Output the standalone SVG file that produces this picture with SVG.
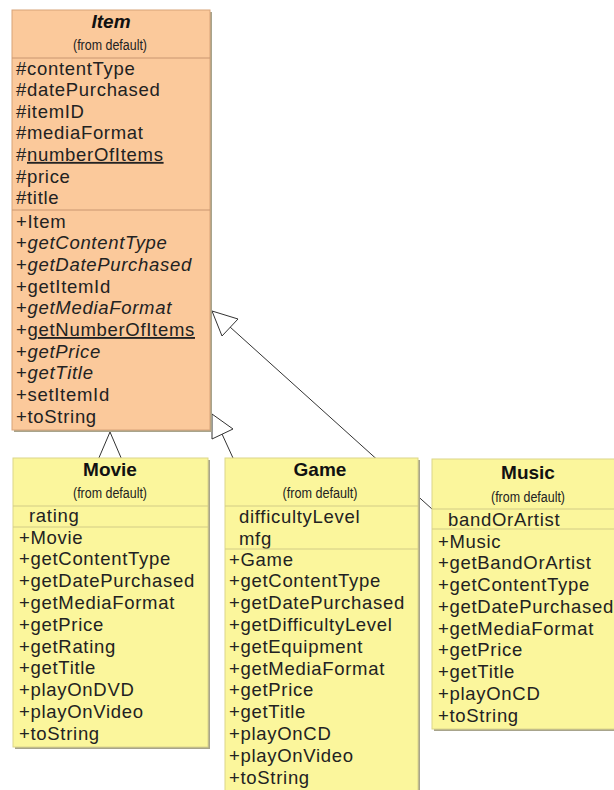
<svg xmlns="http://www.w3.org/2000/svg" width="614" height="790" viewBox="0 0 614 790">
<defs>
<style>
text{font-family:"Liberation Sans",Arial,sans-serif;fill:#222;}
.t{font-size:18.5px;letter-spacing:0.7px;}
.hd{font-size:19px;font-weight:bold;text-anchor:middle;fill:#111;}
.fd{font-size:14px;text-anchor:middle;}
.it{font-style:italic;}
.u{text-decoration:underline;}
.peach{fill:#FBC99B;stroke:#D8A379;stroke-width:1;}
.yel{fill:#FBF69C;stroke:#DCD68A;stroke-width:1;}
.sh{fill:#A8A48C;}
.sepP{stroke:#C99670;stroke-width:1;}
.sepY{stroke:#D2CC86;stroke-width:1;}
.con{stroke:#333;stroke-width:1;fill:none;}
.tri{stroke:#333;stroke-width:1;fill:#fff;}
</style>
</defs>
<rect width="614" height="790" fill="#fff"/>
<g id="connectors">
<line class="con" x1="230" y1="327" x2="432" y2="509"/>
<polygon class="tri" points="212,311 238,319 222,336"/>
<line class="con" x1="222" y1="434" x2="233" y2="458"/>
<polygon class="tri" points="212,414 233,429 212,439"/>
<polygon class="tri" points="110,432 98,460 122,460"/>
</g>
<g id="Item">
<rect class="sh" x="14" y="12" width="198" height="420"/>
<rect class="peach" x="12" y="10" width="198" height="420"/>
<text class="hd it" x="111" y="28">Item</text>
<text class="fd" x="110" y="50" textLength="74" lengthAdjust="spacingAndGlyphs">(from default)</text>
<line class="sepP" x1="12" y1="58" x2="210" y2="58"/>
<text class="t" x="16" y="74.5">#contentType</text>
<text class="t" x="16" y="96.1">#datePurchased</text>
<text class="t" x="16" y="117.7">#itemID</text>
<text class="t" x="16" y="139.3">#mediaFormat</text>
<text class="t" x="16" y="160.9">#<tspan class="u">numberOfItems</tspan></text>
<text class="t" x="16" y="182.5">#price</text>
<text class="t" x="16" y="204.1">#title</text>
<line class="sepP" x1="12" y1="210" x2="210" y2="210"/>
<text class="t" x="16" y="227.5">+Item</text>
<text class="t" x="16" y="249.2">+<tspan class="it">getContentType</tspan></text>
<text class="t" x="16" y="270.9">+<tspan class="it">getDatePurchased</tspan></text>
<text class="t" x="16" y="292.6">+getItemId</text>
<text class="t" x="16" y="314.3">+<tspan class="it">getMediaFormat</tspan></text>
<text class="t" x="16" y="336">+<tspan class="u">getNumberOfItems</tspan></text>
<text class="t" x="16" y="357.7">+<tspan class="it">getPrice</tspan></text>
<text class="t" x="16" y="379.4">+<tspan class="it">getTitle</tspan></text>
<text class="t" x="16" y="401.1">+setItemId</text>
<text class="t" x="16" y="422.8">+toString</text>
</g>
<g id="Movie">
<rect class="sh" x="15" y="460" width="195" height="289"/>
<rect class="yel" x="13" y="458" width="195" height="289"/>
<text class="hd" x="110" y="476">Movie</text>
<text class="fd" x="110" y="498" textLength="74" lengthAdjust="spacingAndGlyphs">(from default)</text>
<line class="sepY" x1="13" y1="506" x2="208" y2="506"/>
<text class="t" x="29" y="521.5">rating</text>
<line class="sepY" x1="13" y1="527" x2="208" y2="527"/>
<text class="t" x="19" y="543.5">+Movie</text>
<text class="t" x="19" y="565.3">+getContentType</text>
<text class="t" x="19" y="587.1">+getDatePurchased</text>
<text class="t" x="19" y="608.9">+getMediaFormat</text>
<text class="t" x="19" y="630.7">+getPrice</text>
<text class="t" x="19" y="652.5">+getRating</text>
<text class="t" x="19" y="674.3">+getTitle</text>
<text class="t" x="19" y="696.1">+playOnDVD</text>
<text class="t" x="19" y="717.9">+playOnVideo</text>
<text class="t" x="19" y="739.7">+toString</text>
</g>
<g id="Game">
<rect class="sh" x="227" y="460" width="193" height="334"/>
<rect class="yel" x="225" y="458" width="193" height="334"/>
<text class="hd" x="320" y="476">Game</text>
<text class="fd" x="320" y="498" textLength="75" lengthAdjust="spacingAndGlyphs">(from default)</text>
<line class="sepY" x1="225" y1="506" x2="418" y2="506"/>
<text class="t" x="239" y="522.5">difficultyLevel</text>
<text class="t" x="239" y="544.5">mfg</text>
<line class="sepY" x1="225" y1="549" x2="418" y2="549"/>
<text class="t" x="229" y="565.5">+Game</text>
<text class="t" x="229" y="587.3">+getContentType</text>
<text class="t" x="229" y="609.1">+getDatePurchased</text>
<text class="t" x="229" y="630.9">+getDifficultyLevel</text>
<text class="t" x="229" y="652.7">+getEquipment</text>
<text class="t" x="229" y="674.5">+getMediaFormat</text>
<text class="t" x="229" y="696.3">+getPrice</text>
<text class="t" x="229" y="718.1">+getTitle</text>
<text class="t" x="229" y="739.9">+playOnCD</text>
<text class="t" x="229" y="761.7">+playOnVideo</text>
<text class="t" x="229" y="783.5">+toString</text>
</g>
<g id="Music">
<rect class="sh" x="434" y="461" width="190" height="270"/>
<rect class="yel" x="432" y="459" width="190" height="270"/>
<text class="hd" x="528" y="479">Music</text>
<text class="fd" x="528" y="502" textLength="74" lengthAdjust="spacingAndGlyphs">(from default)</text>
<line class="sepY" x1="432" y1="509" x2="622" y2="509"/>
<text class="t" x="448" y="525.5">bandOrArtist</text>
<line class="sepY" x1="432" y1="529" x2="622" y2="529"/>
<text class="t" x="438" y="547.5">+Music</text>
<text class="t" x="438" y="569.25">+getBandOrArtist</text>
<text class="t" x="438" y="591">+getContentType</text>
<text class="t" x="438" y="612.75">+getDatePurchased</text>
<text class="t" x="438" y="634.5">+getMediaFormat</text>
<text class="t" x="438" y="656.25">+getPrice</text>
<text class="t" x="438" y="678">+getTitle</text>
<text class="t" x="438" y="699.75">+playOnCD</text>
<text class="t" x="438" y="721.5">+toString</text>
</g>
</svg>
